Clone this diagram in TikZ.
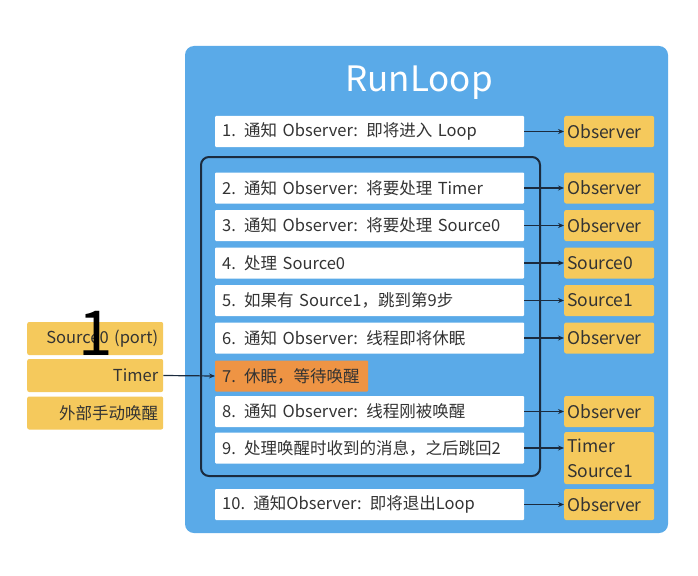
\documentclass[tikz,border=0pt]{standalone}
\usepackage{fontspec}
\newfontfamily\cjk{Noto Sans CJK SC}
\usetikzlibrary{arrows.meta}
\definecolor{rlblue}{HTML}{5AAAE8}
\definecolor{rlyellow}{HTML}{F5C95C}
\definecolor{rlorange}{HTML}{EE9444}
\definecolor{rlnavy}{HTML}{1B2B3E}
\definecolor{rltext}{HTML}{333333}
\tikzset{
  txt/.style={font=\cjk\fontsize{16.5}{19}\selectfont, text=rltext},
  wbox/.style={txt, fill=white, rounded corners=1pt, minimum height=31pt, text width=295pt, inner xsep=7pt, inner ysep=0pt, anchor=west, align=left},
  obox/.style={wbox, fill=rlorange, text width=139pt},
  ybox/.style={txt, font=\cjk\fontsize{17.5}{20}\selectfont, fill=rlyellow, rounded corners=2pt, minimum height=31pt, text width=84pt, inner xsep=3pt, inner ysep=0pt, anchor=west, align=left},
  lbox/.style={txt, fill=rlyellow, rounded corners=2pt, minimum height=33pt, text width=126pt, inner xsep=5pt, inner ysep=0pt, anchor=west, align=right},
  conn/.style={draw=rlnavy, line width=1.2pt, -{Stealth[length=6pt,width=5pt]}},
}
\begin{document}
\begin{tikzpicture}[x=1pt,y=-1pt]
\useasboundingbox (0,0) rectangle (698,575);
\fill[white] (0,0) rectangle (698,575);
% big blue container
\fill[rlblue, rounded corners=9pt] (185,46) rectangle (668,533);
\node[font=\cjk\fontsize{35}{40}\selectfont, text=white] (title) at (419,83) {RunLoop};
% inner loop frame
\draw[rlnavy, line width=2pt, rounded corners=8pt] (201,157) rectangle (540,476);
% steps
\node[wbox] (r1) at (215,131.5) {1. 通知 Observer: 即将进入 Loop};
\node[wbox] (r2) at (215,188) {2. 通知 Observer: 将要处理 Timer};
\node[wbox] (r3) at (215,225.5) {3. 通知 Observer: 将要处理 Source0};
\node[wbox] (r4) at (215,263) {4. 处理 Source0};
\node[wbox] (r5) at (215,300.5) {5. 如果有 Source1，跳到第9步};
\node[wbox] (r6) at (215,338) {6. 通知 Observer: 线程即将休眠};
\node[obox] (r7) at (215,376) {7. 休眠，等待唤醒};
\node[wbox] (r8) at (215,411.5) {8. 通知 Observer: 线程刚被唤醒};
\node[wbox] (r9) at (215,448) {9. 处理唤醒时收到的消息，之后跳回2};
\node[wbox] (r10) at (215,504.5) {10. 通知Observer: 即将退出Loop};
% right yellow boxes
\node[ybox] (y1) at (564,131.5) {Observer};
\node[ybox] (y2) at (564,188) {Observer};
\node[ybox] (y3) at (564,225.5) {Observer};
\node[ybox] (y4) at (564,263) {Source0};
\node[ybox] (y5) at (564,300.5) {Source1};
\node[ybox] (y6) at (564,338) {Observer};
\node[ybox] (y8) at (564,411.5) {Observer};
\node[ybox, minimum height=52pt, font=\cjk\fontsize{17.5}{25}\selectfont] (y9) at (564,458) {Timer\\Source1};
\node[ybox] (y10) at (564,504.5) {Observer};
% left yellow boxes
\node[lbox] (l1) at (27,338.5) {Source0 (port)};
\node[lbox] (l2) at (27,375.5) {Timer};
\node[lbox] (l3) at (27,413) {外部手动唤醒};
\node[font=\cjk\fontsize{62}{64}\selectfont, text=black] (one) at (96,333) {1};
% connectors
\draw[conn] (r1.east) -- (y1.west);
\draw[conn] (r2.east) -- (y2.west);
\draw[conn] (r3.east) -- (y3.west);
\draw[conn] (r4.east) -- (y4.west);
\draw[conn] (r5.east) -- (y5.west);
\draw[conn] (r6.east) -- (y6.west);
\draw[conn] (r8.east) -- (y8.west);
\draw[conn] (r9.east) -- (r9.east -| y9.west);
\draw[conn] (r10.east) -- (y10.west);
\draw[conn] (l2.east) -- (r7.west);
\end{tikzpicture}
\end{document}
